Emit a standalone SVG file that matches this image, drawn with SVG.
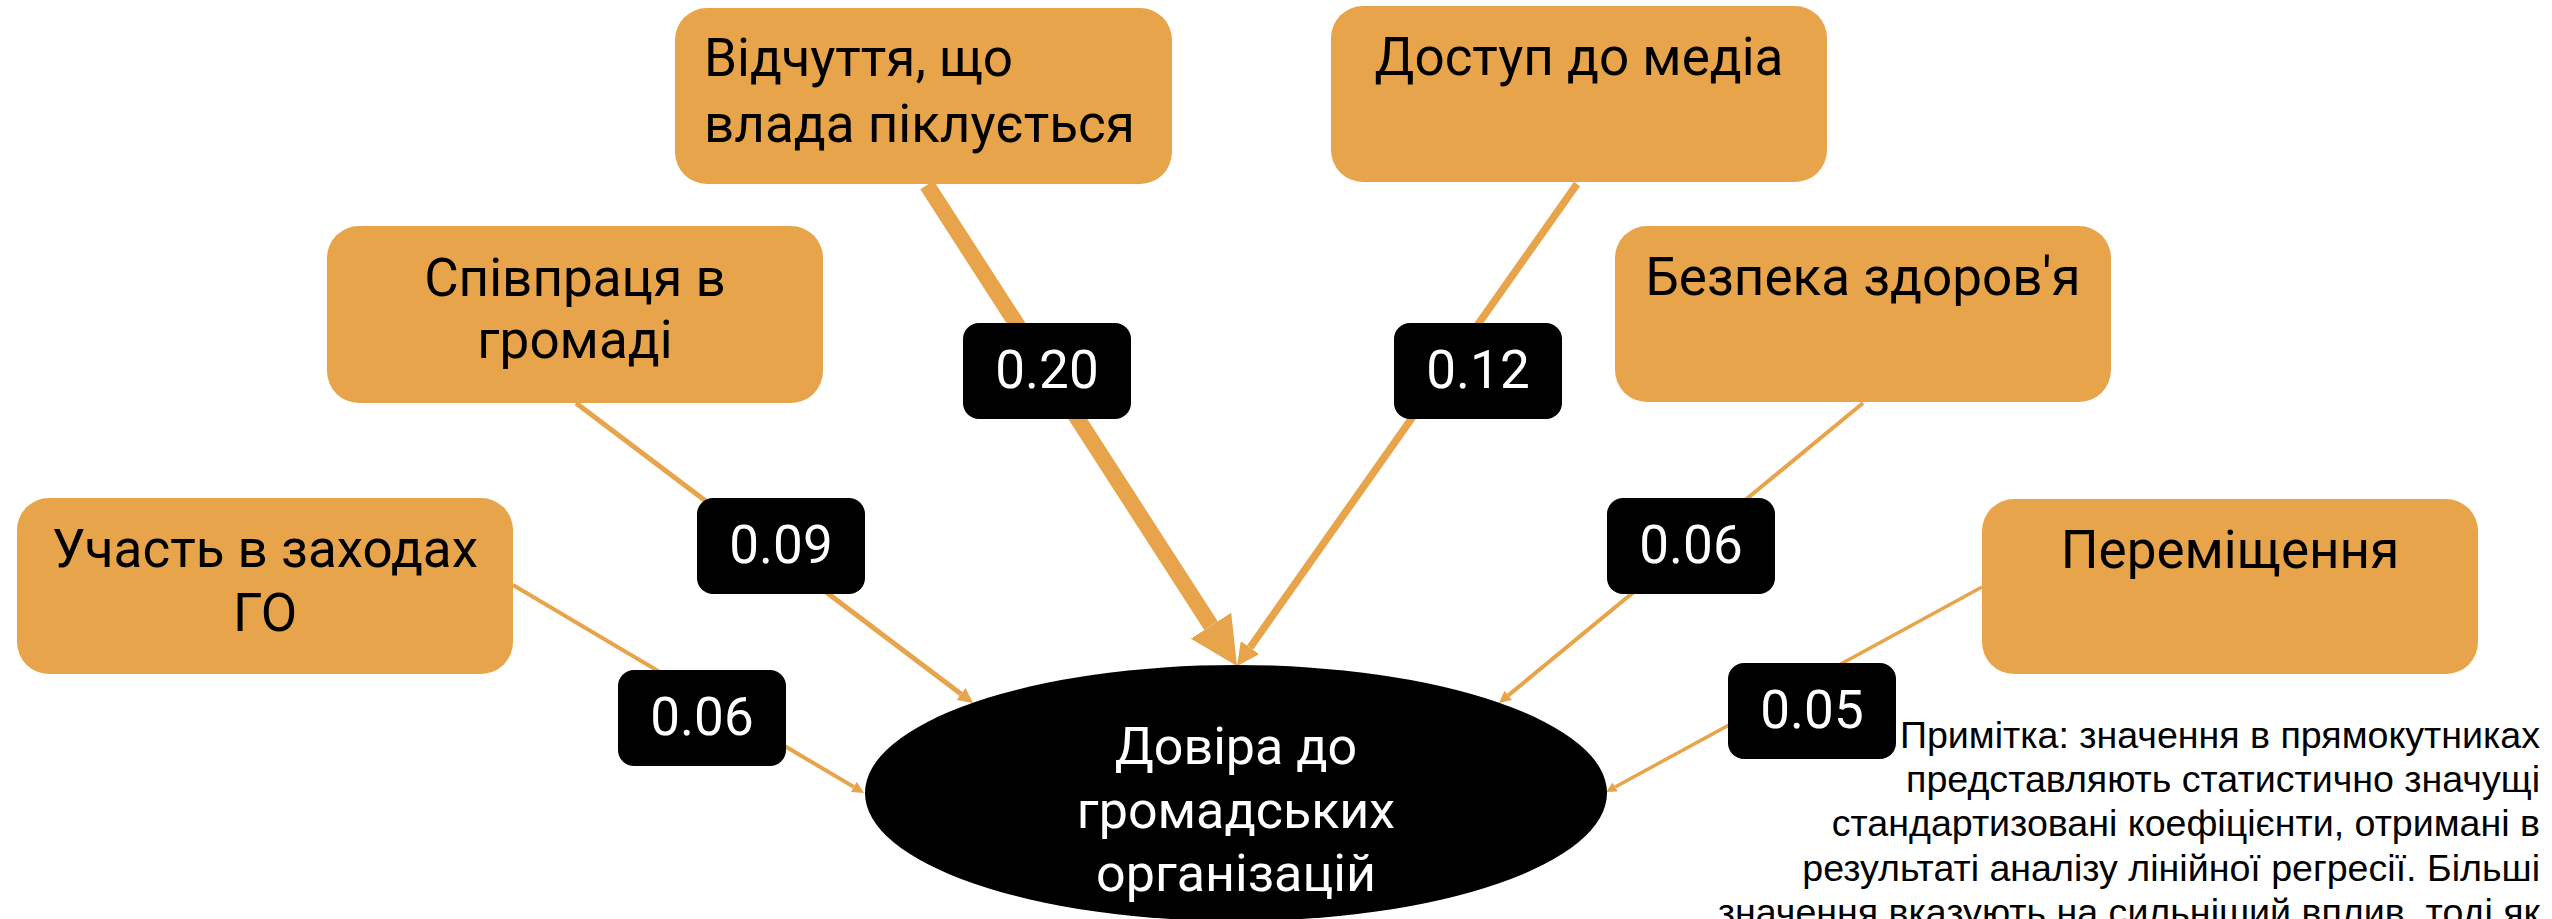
<svg xmlns="http://www.w3.org/2000/svg" width="2552" height="919" viewBox="0 0 2552 919">
<style>
.box{fill:#E8A44A}
.lbl{fill:#000}
.nt{font-family:Roboto,"Noto Sans",sans-serif;font-size:53px;fill:#000}
.ct{font-family:Roboto,"Noto Sans",sans-serif;font-size:52px;fill:#fff;text-anchor:middle}
.lt{font-family:Roboto,"Noto Sans",sans-serif;font-size:53px;fill:#fff;text-anchor:middle}
.note{font-family:"Liberation Sans",Arial,sans-serif;font-size:37.6px;fill:#000;text-anchor:end}
.c{fill:none;stroke:#E8A44A;stroke-linecap:butt;marker-end:url(#ah)}
</style>
<defs>
<marker id="ah" viewBox="0 0 3 3" refX="0" refY="1.5" markerWidth="3" markerHeight="3" markerUnits="strokeWidth" orient="auto">
<path d="M0,0 L3,1.5 L0,3 z" fill="#E8A44A"/>
</marker>
</defs>
<rect width="2552" height="919" fill="#fff"/>
<g id="connectors">
<line class="c" x1="513" y1="585" x2="853.7" y2="786.9" stroke-width="4"/>
<line class="c" x1="576" y1="403" x2="961" y2="694" stroke-width="5"/>
<line class="c" x1="927" y1="185" x2="1211" y2="625.7" stroke-width="16"/>
<line class="c" x1="1577" y1="184" x2="1250" y2="647.6" stroke-width="7.5"/>
<line class="c" x1="1863" y1="403" x2="1508.3" y2="695.4" stroke-width="4"/>
<line class="c" x1="1982" y1="587" x2="1615.2" y2="787" stroke-width="3.5"/>
</g>
<g id="n-uchast">
<rect class="box" x="17" y="498" width="496" height="176" rx="32"/>
<text class="nt" text-anchor="middle"><tspan x="265" y="567">Участь в заходах</tspan><tspan x="265" y="631">ГО</tspan></text>
</g>
<g id="n-spivpratsia">
<rect class="box" x="327" y="226" width="496" height="177" rx="32"/>
<text class="nt" text-anchor="middle"><tspan x="575" y="296">Співпраця в</tspan><tspan x="575" y="358">громаді</tspan></text>
</g>
<g id="n-vidchuttia">
<rect class="box" x="675" y="8" width="497" height="176" rx="32"/>
<text class="nt"><tspan x="704" y="76">Відчуття, що</tspan><tspan x="704" y="142">влада піклується</tspan></text>
</g>
<g id="n-dostup">
<rect class="box" x="1331" y="6" width="496" height="176" rx="32"/>
<text class="nt" text-anchor="middle" x="1579" y="75">Доступ до медіа</text>
</g>
<g id="n-bezpeka">
<rect class="box" x="1615" y="226" width="496" height="176" rx="32"/>
<text class="nt" text-anchor="middle" x="1863" y="295">Безпека здоров'я</text>
</g>
<g id="n-peremishchennia">
<rect class="box" x="1982" y="499" width="496" height="175" rx="32"/>
<text class="nt" text-anchor="middle" x="2230" y="568">Переміщення</text>
</g>
<g id="n-dovira">
<ellipse cx="1236" cy="793" rx="371" ry="128" fill="#000"/>
<text class="ct"><tspan x="1236" y="764">Довіра до</tspan><tspan x="1236" y="828">громадських</tspan><tspan x="1236" y="891">організацій</tspan></text>
</g>
<g id="labels">
<g id="l-020"><rect class="lbl" x="963" y="323" width="168" height="96" rx="16"/><text class="lt" x="1047" y="388">0.20</text></g>
<g id="l-012"><rect class="lbl" x="1394" y="323" width="168" height="96" rx="16"/><text class="lt" x="1478" y="388">0.12</text></g>
<g id="l-009"><rect class="lbl" x="697" y="498" width="168" height="96" rx="16"/><text class="lt" x="781" y="563">0.09</text></g>
<g id="l-006a"><rect class="lbl" x="618" y="670" width="168" height="96" rx="16"/><text class="lt" x="702" y="735">0.06</text></g>
<g id="l-006b"><rect class="lbl" x="1607" y="498" width="168" height="96" rx="16"/><text class="lt" x="1691" y="563">0.06</text></g>
<g id="l-005"><rect class="lbl" x="1728" y="663" width="168" height="96" rx="16"/><text class="lt" x="1812" y="728">0.05</text></g>
</g>
<g id="note">
<text class="note"><tspan x="2540" y="748">Примітка: значення в прямокутниках</tspan><tspan x="2540" y="792">представляють статистично значущі</tspan><tspan x="2540" y="836">стандартизовані коефіцієнти, отримані в</tspan><tspan x="2540" y="881">результаті аналізу лінійної регресії. Більші</tspan><tspan x="2540" y="925">значення вказують на сильніший вплив, тоді як</tspan></text>
</g>
</svg>
